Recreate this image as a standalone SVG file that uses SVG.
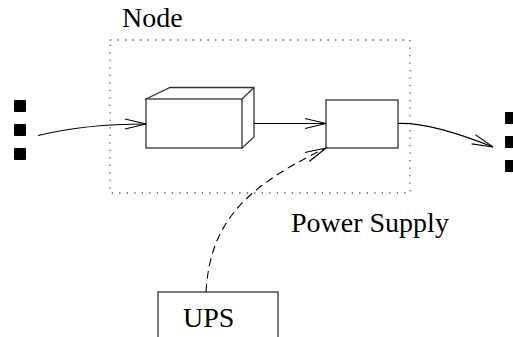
<svg xmlns="http://www.w3.org/2000/svg" width="513" height="337" viewBox="0 0 513 337">
  <style>
    .box { fill: #fff; stroke: #333; stroke-width: 1.3; }
    .cube { fill: #fff; stroke: #333; stroke-width: 1.3; stroke-linejoin: miter; }
    .frame { fill: none; stroke: #555; stroke-width: 1.3; stroke-dasharray: 1.3 6.2; }
    .dot { fill: #000; }
    .label { font-family: "Liberation Serif", "Times New Roman", serif; font-size: 28px; fill: #000; }
    .wire { fill: none; stroke: #000; stroke-width: 1.1; marker-end: url(#open-arrow); }
    .dashed { stroke-dasharray: 8 5; }
  </style>
  <defs>
    <marker id="open-arrow" viewBox="-24 -7 26 14" refX="0" refY="0" markerWidth="26" markerHeight="14" markerUnits="userSpaceOnUse" orient="auto" overflow="visible">
      <path d="M-21,-5 L0,0 L-21,5" fill="none" stroke="#000" stroke-width="1.1" stroke-dasharray="none"/>
    </marker>
  </defs>

  <rect width="513" height="337" fill="#fff"/>

  <!-- node boundary -->
  <g id="node">
    <rect class="frame" x="110" y="40" width="300" height="153"/>
    <text class="label" x="122" y="27">Node</text>
  </g>

  <!-- ellipsis markers on the input side -->
  <g id="input-dots">
    <rect class="dot" x="14" y="100" width="12" height="12" rx="1"/>
    <rect class="dot" x="14" y="124" width="12" height="12" rx="1"/>
    <rect class="dot" x="14" y="148" width="12" height="12" rx="1"/>
  </g>

  <!-- ellipsis markers on the output side -->
  <g id="output-dots">
    <rect class="dot" x="505" y="112" width="12" height="12" rx="1"/>
    <rect class="dot" x="505" y="136" width="12" height="12" rx="1"/>
    <rect class="dot" x="505" y="160" width="12" height="12" rx="1"/>
  </g>

  <!-- processing block drawn as a box in perspective -->
  <g id="cube">
    <path class="cube" d="M146,99 L170,87.5 L254,87.5 L254,137 L242,148 Z"/>
    <path class="cube" d="M242,99 L254,87.5"/>
    <rect class="cube" x="146" y="99" width="96" height="49"/>
  </g>

  <!-- power supply block -->
  <g id="power-supply">
    <rect class="box" x="326" y="100" width="72" height="48"/>
    <text class="label" x="291" y="232">Power Supply</text>
  </g>

  <!-- UPS block, running off the bottom edge -->
  <g id="ups">
    <rect class="box" x="158" y="292" width="120" height="60"/>
    <text class="label" x="183" y="327">UPS</text>
  </g>

  <!-- connectors -->
  <g id="connectors">
    <path class="wire" d="M38,135.5 Q85,124 146,124"/>
    <path class="wire" d="M254,123.5 L326,123.5"/>
    <path class="wire" d="M398,123.5 Q430,122 493,147"/>
    <path class="wire dashed" d="M206,292 C210,225 242,188 326,148"/>
  </g>
</svg>
